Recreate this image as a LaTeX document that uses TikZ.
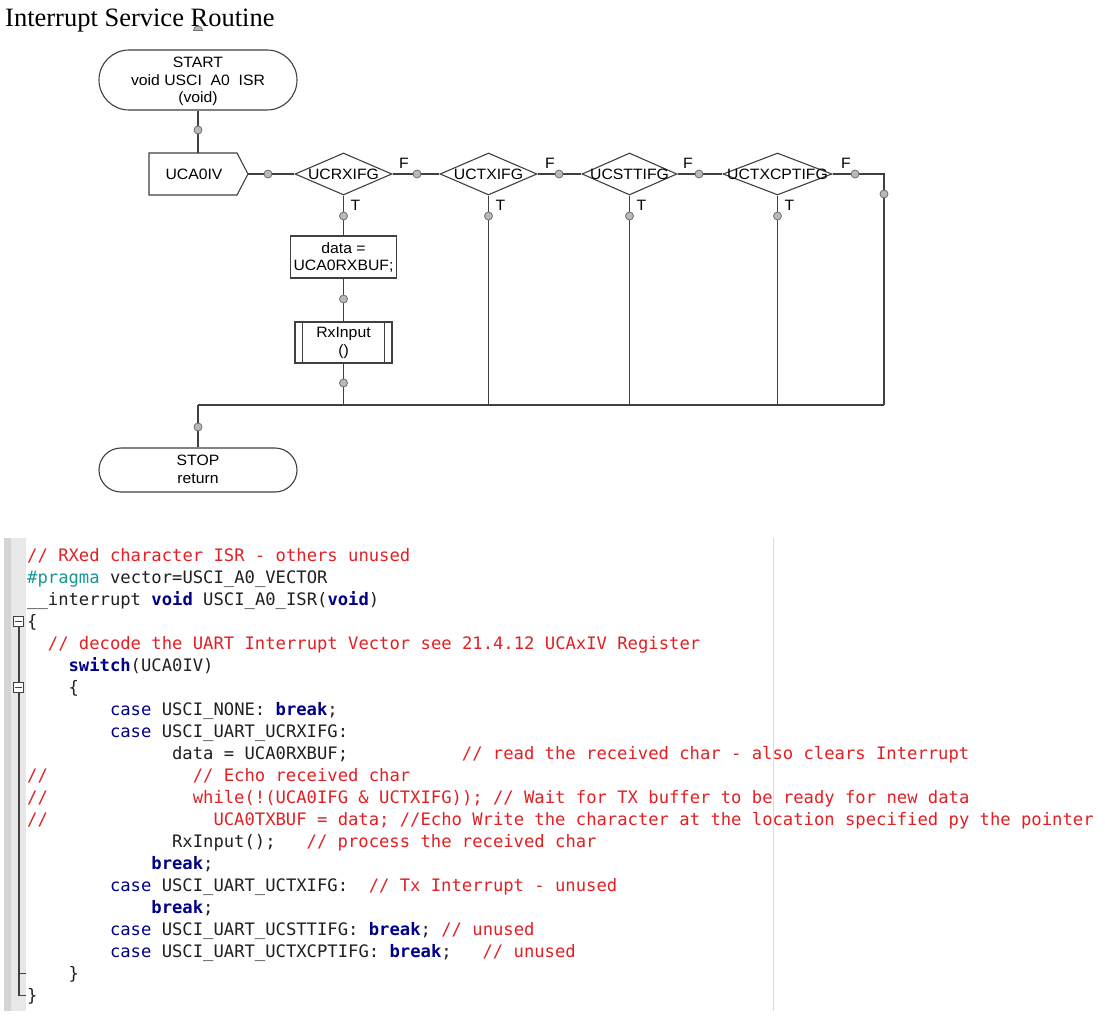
\documentclass[tikz,border=0pt]{standalone}
\usepackage{fontspec}
\setmainfont{Liberation Serif}
\newfontfamily\flowfont[FakeStretch=1.05]{Liberation Sans}
\newfontfamily\codefont{DejaVu Sans Mono}
\usetikzlibrary{shapes.geometric,shapes.misc}
\definecolor{lnc}{RGB}{64,64,64}
\definecolor{dotf}{RGB}{185,185,185}
\definecolor{dotd}{RGB}{110,110,110}
\definecolor{cmt}{RGB}{226,32,36}
\definecolor{kw}{RGB}{0,0,136}
\definecolor{pp}{RGB}{24,150,150}
\definecolor{txt}{RGB}{32,32,32}
\definecolor{gutA}{RGB}{212,212,212}
\definecolor{gutB}{RGB}{232,232,232}
\definecolor{marg}{RGB}{200,232,200}
\newcommand\cmtc{\color{cmt}}
\newcommand\kwb[1]{{\bfseries\color{kw}#1}}
\newcommand\kwn[1]{{\color{kw}#1}}
\newcommand\cd[4]{\node[codetxt] (#1) at ({27+10.35*#2},{561.5+22*(#3-1)}) {#4};}
\begin{document}
\begin{tikzpicture}[x=1pt,y=-1pt,
  conn/.style={draw=lnc, line width=1.2pt},
  term/.style={rounded rectangle, draw=lnc, line width=1.1pt, minimum width=198pt, inner sep=0pt},
  dia/.style={diamond, draw=lnc, line width=1.1pt, inner sep=0pt, minimum height=42pt},
  lbl/.style={font=\flowfont\fontsize{15}{17.5}\selectfont, inner sep=0pt, text=black},
  cdot/.style={circle, fill=dotf, draw=dotd, line width=0.8pt, minimum size=8pt, inner sep=0pt},
  codetxt/.style={anchor=base west, inner sep=0pt, font=\codefont\fontsize{17.2}{22}\selectfont, text=txt}]
\useasboundingbox (0,0) rectangle (1105,1016);
\fill[white] (0,0) rectangle (1105,1016);

% ---------- title ----------
\fill[dotf, draw=dotd, line width=0.8pt] (193.5,30.5) arc (180:360:4.5) -- cycle;
\node[anchor=base west, inner sep=0pt, font=\fontsize{26.5}{30}\selectfont] (title) at (5,27) {Interrupt Service Routine};

% ---------- flowchart nodes ----------
\node[term, minimum height=60pt] (start) at (198,80) {};
\node[lbl, align=center] (startt) at (198,81.5) {START\\void USCI\ \ A0\ \ ISR\\(void)};
\node[term, minimum height=44pt] (stop) at (198,470) {};
\node[lbl, align=center] (stopt) at (198,469.5) {STOP\\return};

\coordinate (ucaNW) at (149,153);
\coordinate (ucaNE) at (237,153);
\coordinate (ucaE) at (248,174);
\coordinate (ucaSE) at (237,195);
\coordinate (ucaSW) at (149,195);
\coordinate (ucaN) at (198,153);
\draw[draw=lnc, line width=1.1pt] (ucaNW) -- (ucaNE) -- (ucaE) -- (ucaSE) -- (ucaSW) -- cycle;
\node[lbl] (uca) at (194,174) {UCA0IV};

\node[dia, minimum width=97pt] (d1) at (343.5,174) {};
\node[dia, minimum width=97pt] (d2) at (488.5,174) {};
\node[dia, minimum width=95pt] (d3) at (629.5,174) {};
\node[dia, minimum width=109pt] (d4) at (777.5,174) {};

\node[draw=lnc, line width=1.1pt, minimum width=106pt, minimum height=42pt, inner sep=0pt] (data) at (343.5,257) {};
\node[draw=lnc, line width=1.1pt, minimum width=97pt, minimum height=41pt, inner sep=0pt] (rx) at (343.5,342.5) {};
\draw[draw=lnc, line width=1.1pt] ([xshift=8pt]rx.north west) -- ([xshift=8pt]rx.south west);
\draw[draw=lnc, line width=1.1pt] ([xshift=-8pt]rx.north east) -- ([xshift=-8pt]rx.south east);

\coordinate (rc) at (884,174);
\coordinate (rb) at (884,405);
\coordinate (jL) at (198,405);
\coordinate (j1) at (343.5,405);
\coordinate (j2) at (488.5,405);
\coordinate (j3) at (629.5,405);
\coordinate (j4) at (777.5,405);

% ---------- connectors ----------
\draw[conn] (start.south) -- (ucaN);
\draw[conn] (ucaE) -- (d1.west);
\draw[conn] (d1.east) -- (d2.west);
\draw[conn] (d2.east) -- (d3.west);
\draw[conn] (d3.east) -- (d4.west);
\draw[conn] (d4.east) -- (rc) -- (rb);
\draw[conn] (d1.south) -- (data.north);
\draw[conn] (data.south) -- (rx.north);
\draw[conn] (rx.south) -- (j1);
\draw[conn] (d2.south) -- (j2);
\draw[conn] (d3.south) -- (j3);
\draw[conn] (d4.south) -- (j4);
\draw[conn] (jL) -- (rb);
\draw[conn] (jL) -- (stop.north);

% ---------- texts ----------
\node[lbl] (d1t) at (d1.center) {UCRXIFG};
\node[lbl] (d2t) at (d2.center) {UCTXIFG};
\node[lbl] (d3t) at (d3.center) {UCSTTIFG};
\node[lbl] (d4t) at (d4.center) {UCTXCPTIFG};
\node[lbl] (datat1) at (343.5,248) {data =};
\node[lbl, fill=white, inner ysep=1pt] (datat2) at (343.5,266) {UCA0RXBUF;};
\node[lbl, align=center] (rxt) at (343.5,343) {RxInput\\()};

\node[lbl] (f1) at (404,163) {F};
\node[lbl] (f2) at (550,163) {F};
\node[lbl] (f3) at (688,163) {F};
\node[lbl] (f4) at (846,163) {F};
\node[lbl] (t1) at (355.5,205) {T};
\node[lbl] (t2) at (500.5,205) {T};
\node[lbl] (t3) at (641.5,205) {T};
\node[lbl] (t4) at (789.5,205) {T};

% ---------- dots ----------
\node[cdot] (p0) at (198,130) {};
\node[cdot] (p1) at (268,174) {};
\node[cdot] (p2) at (417,174) {};
\node[cdot] (p3) at (559,174) {};
\node[cdot] (p4) at (699,174) {};
\node[cdot] (p5) at (855,174) {};
\node[cdot] (p6) at (884,194) {};
\node[cdot] (q1) at (343.5,216) {};
\node[cdot] (q2) at (488.5,216) {};
\node[cdot] (q3) at (629.5,216) {};
\node[cdot] (q4) at (777.5,216) {};
\node[cdot] (q5) at (343.5,299) {};
\node[cdot] (q6) at (343.5,383) {};
\node[cdot] (q7) at (198,427) {};

% ---------- code editor ----------
\fill[gutA] (4,538) rectangle (11,1011);
\fill[gutB] (11,538) rectangle (26,1011);
\draw[marg, line width=1pt] (773,538) -- (773,1011);
\draw[lnc, line width=1.1pt] (19,627) -- (19,995.5) -- (25.5,995.5);
\draw[lnc, line width=1.1pt] (19,973.5) -- (25.5,973.5);
\node[draw=lnc, fill=white, line width=1pt, minimum size=10.5pt, inner sep=0pt] (fold1) at (18.7,621.5) {};
\node[draw=lnc, fill=white, line width=1pt, minimum size=10.5pt, inner sep=0pt] (fold2) at (18.7,687.5) {};
\draw[lnc, line width=1pt] ([xshift=2.5pt]fold1.west) -- ([xshift=-2.5pt]fold1.east);
\draw[lnc, line width=1pt] ([xshift=2.5pt]fold2.west) -- ([xshift=-2.5pt]fold2.east);

\cd{c1}{0}{1}{\cmtc // RXed character ISR - others unused}
\cd{c2}{0}{2}{{\color{pp}\#pragma} vector=USCI\_A0\_VECTOR}
\cd{c3}{0}{3}{\_\_interrupt \kwb{void} USCI\_A0\_ISR(\kwb{void})}
\cd{c4}{0}{4}{\{}
\cd{c5}{2}{5}{\cmtc // decode the UART Interrupt Vector see 21.4.12 UCAxIV Register}
\cd{c6}{4}{6}{\kwb{switch}(UCA0IV)}
\cd{c7}{4}{7}{\{}
\cd{c8}{8}{8}{\kwn{case} USCI\_NONE: \kwb{break};}
\cd{c9}{8}{9}{\kwn{case} USCI\_UART\_UCRXIFG:}
\cd{c10}{14}{10}{data = UCA0RXBUF;}
\cd{c10b}{42}{10}{\cmtc // read the received char - also clears Interrupt}
\cd{c11}{0}{11}{\cmtc //}
\cd{c11b}{16}{11}{\cmtc // Echo received char}
\cd{c12}{0}{12}{\cmtc //}
\cd{c12b}{16}{12}{\cmtc while(!(UCA0IFG \& UCTXIFG)); // Wait for TX buffer to be ready for new data}
\cd{c13}{0}{13}{\cmtc //}
\cd{c13b}{18}{13}{\cmtc UCA0TXBUF = data; //Echo Write the character at the location specified py the pointer}
\cd{c14}{14}{14}{RxInput();}
\cd{c14b}{27}{14}{\cmtc // process the received char}
\cd{c15}{12}{15}{\kwb{break};}
\cd{c16}{8}{16}{\kwn{case} USCI\_UART\_UCTXIFG:}
\cd{c16b}{33}{16}{\cmtc // Tx Interrupt - unused}
\cd{c17}{12}{17}{\kwb{break};}
\cd{c18}{8}{18}{\kwn{case} USCI\_UART\_UCSTTIFG: \kwb{break}; {\cmtc // unused}}
\cd{c19}{8}{19}{\kwn{case} USCI\_UART\_UCTXCPTIFG: \kwb{break};}
\cd{c19b}{44}{19}{\cmtc // unused}
\cd{c20}{4}{20}{\}}
\cd{c21}{0}{21}{\}}
\end{tikzpicture}
\end{document}
